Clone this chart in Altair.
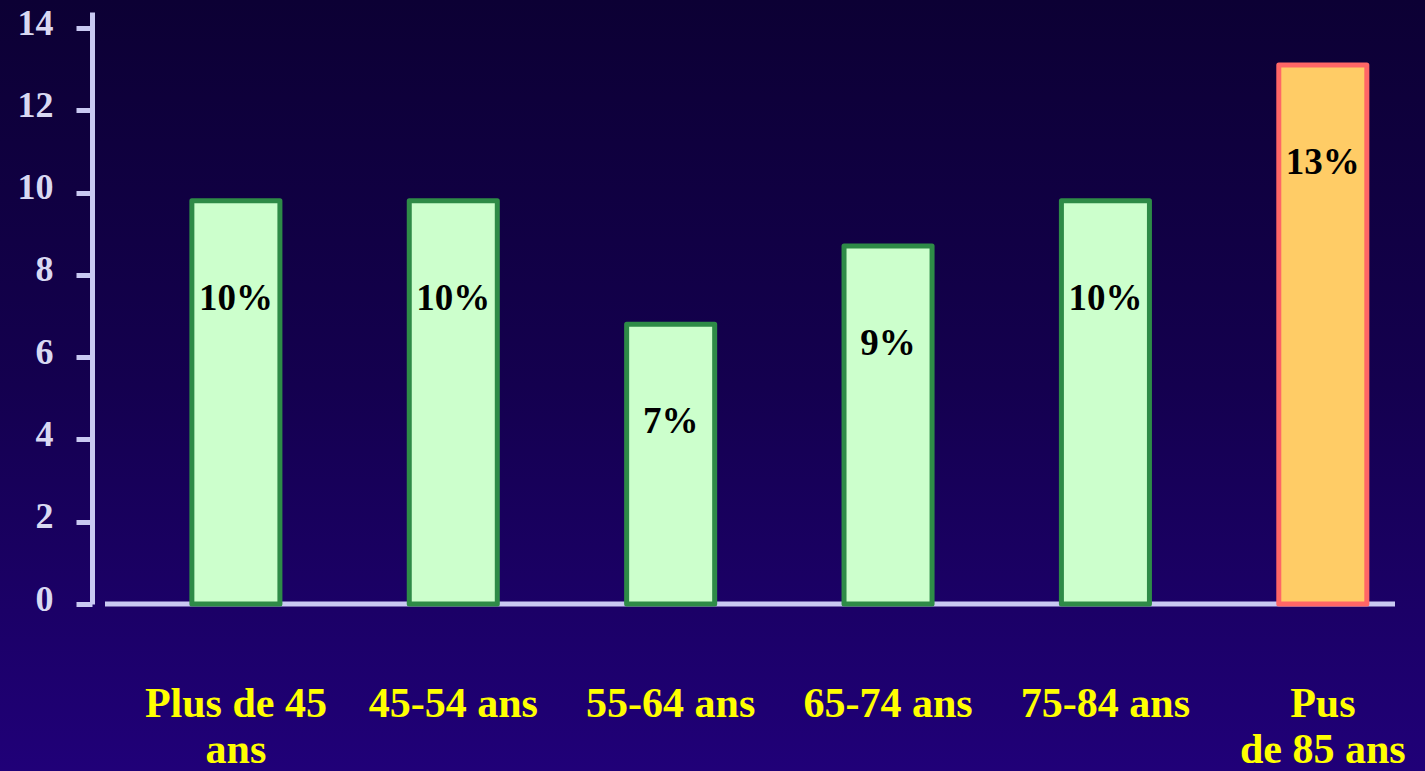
import altair as alt
import pandas as pd

# Age groups (line breaks split the axis labels), rates in %, highlighted group
categories = ["Plus de 45\nans", "45-54 ans", "55-64 ans", "65-74 ans", "75-84 ans", "Pus\nde 85 ans"]
values = [9.8, 9.8, 6.8, 8.7, 9.8, 13.1]
groups = ["base", "base", "base", "base", "base", "max"]
y_ticks = [0, 2, 4, 6, 8, 10, 12, 14]

df = pd.DataFrame({"age": categories, "taux": values, "groupe": groups})

W, H = 1303, 592
PAD = {"left": 92, "top": 12, "right": 30, "bottom": 167}
AXIS_COLOR = "#c9c9f2"
SERIF = "Liberation Serif"

x_scale = alt.Scale(domain=categories, paddingInner=0.595, paddingOuter=0.2945, align=0.78)
y_scale = alt.Scale(domain=[0, 14.39], nice=False, zero=True)

# Full-canvas gradient backdrop
background = alt.Chart(pd.DataFrame({"bg": [0]})).mark_rect(
    color=alt.LinearGradient(
        gradient="linear",
        stops=[
            alt.GradientStop(color="#0c0034", offset=0),
            alt.GradientStop(color="#14004f", offset=0.5),
            alt.GradientStop(color="#200078", offset=1),
        ],
        x1=0, x2=0, y1=0, y2=1,
    )
).encode(
    x=alt.value(-PAD["left"]),
    x2=alt.value(W + PAD["right"]),
    y=alt.value(-PAD["top"]),
    y2=alt.value(H + PAD["bottom"]),
)

# Horizontal baseline at zero, drawn beneath the bars
baseline = alt.Chart(pd.DataFrame({"z": [0]})).mark_rule(
    color=AXIS_COLOR, strokeWidth=5
).encode(
    y=alt.Y("z:Q", scale=y_scale),
    x=alt.value(13),
    x2=alt.value(W),
)

base = alt.Chart(df)

bars = base.mark_bar(strokeWidth=5, strokeJoin="round").encode(
    x=alt.X(
        "age:N",
        sort=categories,
        scale=x_scale,
        axis=alt.Axis(
            title=None,
            labelAngle=0,
            domain=False,
            ticks=False,
            tickSize=0,
            labelExpr="split(datum.value, '\\n')",
            labelFont=SERIF,
            labelFontWeight="bold",
            labelFontSize=42,
            labelColor="#ffff00",
            labelLineHeight=46,
            labelPadding=79,
            labelBaseline="top",
            labelLimit=400,
            labelOverlap=False,
            zindex=1,
        ),
    ),
    y=alt.Y(
        "taux:Q",
        scale=y_scale,
        axis=alt.Axis(
            title=None,
            values=y_ticks,
            grid=False,
            domainColor=AXIS_COLOR,
            domainWidth=5,
            tickColor=AXIS_COLOR,
            tickWidth=5,
            tickSize=16,
            labelFont=SERIF,
            labelFontWeight="bold",
            labelFontSize=36,
            labelColor="#d9d9f2",
            labelPadding=23,
            labelOffset=-5,
            zindex=1,
        ),
    ),
    fill=alt.Fill(
        "groupe:N",
        scale=alt.Scale(domain=["base", "max"], range=["#ccffcc", "#ffcc66"]),
        legend=None,
    ),
    stroke=alt.Stroke(
        "groupe:N",
        scale=alt.Scale(domain=["base", "max"], range=["#2e8b47", "#ff6666"]),
        legend=None,
    ),
)

labels = base.transform_calculate(
    label="format(round(datum.taux), 'd') + '%'"
).mark_text(
    dy=98,
    baseline="middle",
    align="center",
    font=SERIF,
    fontWeight="bold",
    fontSize=37,
    color="black",
).encode(
    x=alt.X("age:N", sort=categories, scale=x_scale),
    y=alt.Y("taux:Q", scale=y_scale),
    text="label:N",
)

chart = alt.layer(background, baseline, bars, labels).properties(
    width=W,
    height=H,
    padding=PAD,
    autosize=alt.AutoSizeParams(type="none"),
    background="#200078",
).configure_view(stroke=None)

chart.save("out.html", embed_options={"renderer": "svg", "actions": False})
